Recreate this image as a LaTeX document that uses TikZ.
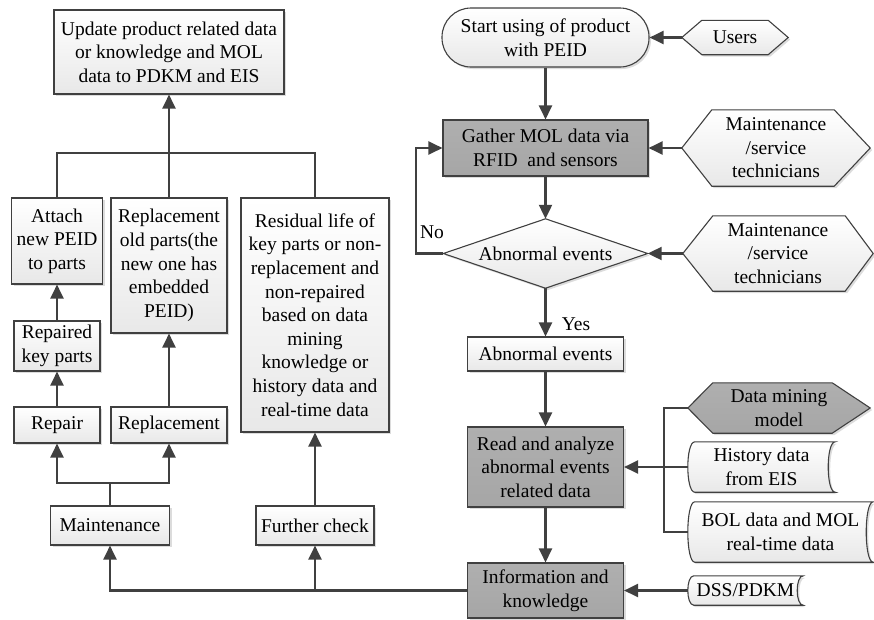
\documentclass[tikz,border=0pt]{standalone}
\usepackage{fontspec}
\setmainfont{Liberation Serif}
\usetikzlibrary{arrows.meta,backgrounds,shadows,calc}
\definecolor{ln}{HTML}{404040}
\definecolor{dk}{HTML}{A6A6A6}
\tikzset{
  base/.style={inner sep=0pt, align=center, font=\fontsize{19.5}{23.6}\selectfont, text=black},
  shad/.style={drop shadow={shadow xshift=2pt,shadow yshift=-2pt,fill=gray!60,opacity=.45}},
  lfill/.style={draw=ln, line width=1.1pt, top color=white, bottom color=gray!18, shad},
  dfill/.style={draw=ln, line width=1.1pt, top color=dk!90!white, bottom color=dk, shad},
  lbox/.style={base, lfill},
  dbox/.style={base, dfill},
  ghost/.style={base},
  line/.style={draw=ln, line width=2.2pt},
  arr/.style={line, -{Triangle[length=14pt,width=13pt]}},
}
\newcommand{\hexshape}[4]{%
  \path[#4] (#1.west) -- ([xshift=#2]#1.north west) -- ([xshift=-#3]#1.north east) -- (#1.east)
    -- ([xshift=-#3]#1.south east) -- ([xshift=#2]#1.south west) -- cycle;}
\newcommand{\storeshape}[3]{%
  \path[#3] ([xshift=#2]#1.north west) -- (#1.north east)
    .. controls ([xshift=-1.333*#2]#1.north east) and ([xshift=-1.333*#2]#1.south east) .. (#1.south east)
    -- ([xshift=#2]#1.south west)
    .. controls ([xshift=-0.333*#2]#1.south west) and ([xshift=-0.333*#2]#1.north west) .. ([xshift=#2]#1.north west)
    -- cycle;}
\newcommand{\diashape}[2]{%
  \path[#2] (#1.west) -- (#1.north) -- (#1.east) -- (#1.south) -- cycle;}
\begin{document}
\begin{tikzpicture}[x=1pt,y=-1pt]
\useasboundingbox (0,0) rectangle (874,619);
% left column
\node[lbox, minimum width=230, minimum height=84] (update) at (169,52) {Update product related data\\or knowledge and MOL\\data to PDKM and EIS};
\node[lbox, minimum width=91, minimum height=86] (attach) at (57,241) {Attach\\new PEID\\to parts};
\node[lbox, minimum width=116, minimum height=135] (repold) at (169,265.5) {Replacement\\old parts(the\\new one has\\embedded\\PEID)};
\node[lbox, minimum width=148, minimum height=234] (residual) at (315,315) {Residual life of\\key parts or non-\\replacement and\\non-repaired\\based on data\\mining\\knowledge or\\history data and\\real-time data};
\node[lbox, minimum width=86, minimum height=50] (repaired) at (57,346) {Repaired\\key parts};
\node[lbox, minimum width=86, minimum height=36] (repair) at (57,425) {Repair};
\node[lbox, minimum width=116, minimum height=36] (replacement) at (169,425) {Replacement};
\node[lbox, minimum width=119, minimum height=39] (maint) at (110,525.5) {Maintenance};
\node[lbox, minimum width=118, minimum height=39] (further) at (315,525.5) {Further check};
% right column
\node[lbox, minimum width=207, minimum height=59, rounded corners=29pt] (start) at (545.5,37.5) {Start using of product\\with PEID};
\node[ghost, minimum width=106, minimum height=34] (users) at (735,37.5) {Users};
\node[dbox, minimum width=205, minimum height=56] (gather) at (545.5,148) {Gather MOL data via\\RFID\ \ and sensors};
\node[ghost, minimum width=188, minimum height=76] (mt1) at (776,148) {Maintenance\\/service\\technicians};
\node[ghost, minimum width=204, minimum height=69] (dia) at (545.5,253.5) {Abnormal events};
\node[ghost, minimum width=190, minimum height=75] (mt2) at (778,253.5) {Maintenance\\/service\\technicians};
\node[lbox, minimum width=156, minimum height=34] (abn) at (545.5,354) {Abnormal events};
\node[dbox, minimum width=156, minimum height=80] (read) at (545.5,467) {Read and analyze\\abnormal events\\related data};
\node[ghost, minimum width=182, minimum height=50] (dm) at (779,408) {Data mining\\model};
\node[ghost, minimum width=147, minimum height=50] (hist) at (761.5,467) {History data\\from EIS};
\node[ghost, minimum width=185, minimum height=60] (bol) at (780.5,532) {BOL data and MOL\\real-time data};
\node[dbox, minimum width=156, minimum height=55] (info) at (545.5,590.5) {Information and\\knowledge};
\node[ghost, minimum width=115, minimum height=29] (dss) at (745.5,590.5) {DSS/PDKM};
\node[base] (no) at (432,232) {No};
\node[base] (yes) at (576,324) {Yes};
\begin{scope}[on background layer]
  \hexshape{users}{20}{20}{lfill}
  \hexshape{mt1}{30}{36}{lfill}
  \hexshape{mt2}{30}{28}{lfill}
  \hexshape{dm}{25}{38}{dfill}
  \diashape{dia}{lfill}
  \storeshape{hist}{7}{lfill}
  \storeshape{bol}{7}{lfill}
  \storeshape{dss}{6}{lfill}
\end{scope}
% connectors left
\coordinate (bar) at (169,153);
\draw[line] (attach.north) |- (bar) -| (residual.north);
\draw[line] (repold.north) -- (bar);
\draw[arr] (bar) -- (update.south);
\draw[arr] (repaired.north) -- (attach.south);
\draw[arr] (repair.north) -- (repaired.south);
\draw[arr] (replacement.north) -- (repold.south);
\draw[arr] (further.north) -- (residual.south);
\coordinate (mj) at (110,483);
\draw[line] (maint.north) -- (mj);
\draw[arr] (mj) -| (repair.south);
\draw[arr] (mj) -| (replacement.south);
\draw[arr] (info.west) -| (maint.south);
\draw[arr] (info.west) -| (further.south);
% connectors right
\draw[arr] (users.west) -- (start.east);
\draw[arr] (start.south) -- (gather.north);
\draw[arr] (mt1.west) -- (gather.east);
\draw[arr] (gather.south) -- (dia.north);
\draw[arr] (mt2.west) -- (dia.east);
\coordinate (noc) at (416,253.5);
\draw[arr] (dia.west) -- (noc) |- (gather.west);
\draw[arr] (dia.south) -- (abn.north);
\draw[arr] (abn.south) -- (read.north);
\coordinate (dmc) at (664,408);
\draw[line] (dm.west) -- (dmc) |- (bol.west);
\draw[arr] (hist.west) -- (read.east);
\draw[arr] (read.south) -- (info.north);
\draw[arr] (dss.west) -- (info.east);
\end{tikzpicture}
\end{document}
